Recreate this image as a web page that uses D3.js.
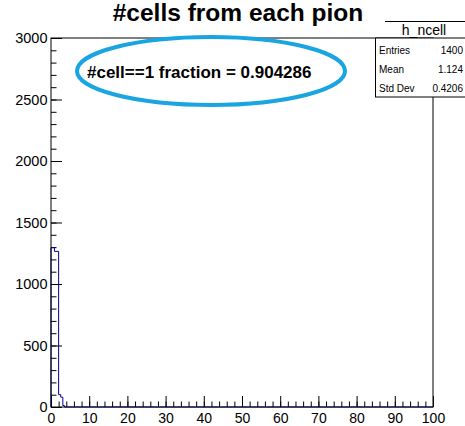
<!DOCTYPE html>
<html>
<head>
<meta charset="utf-8">
<script src="https://cdn.jsdelivr.net/npm/d3@7"></script>
<style>
  body { margin: 0; background: #fff; }
  svg { display: block; font-family: "Liberation Sans", Arial, sans-serif; }
</style>
</head>
<body>
<div id="chart"></div>
<script>
// histogram h_ncell
var binEdges = [0, 0.9, 2, 2.55, 3.1, 3.5];
var binCounts = [1295, 1265, 100, 80, 12];
var xRange = [0, 100];
var yRange = [0, 3000];
var xTicks = [0, 10, 20, 30, 40, 50, 60, 70, 80, 90, 100];
var yTicks = [0, 500, 1000, 1500, 2000, 2500, 3000];

var statsNames = ["Entries", "Mean", "Std Dev"];
var statsValues = ["1400", "1.124", "0.4206"];
var title = "#cells from each pion";
var note = "#cell==1 fraction = 0.904286";

var width = 465, height = 426;
var font = "Liberation Sans, Arial, sans-serif";
var svg = d3.select("#chart").append("svg").attr("width", width).attr("height", height);

var x = d3.scaleLinear().domain(xRange).range([51, 433]);
var y = d3.scaleLinear().domain(yRange).range([407, 38]);

// minor ticks
svg.append("g").attr("transform", "translate(0,407)")
    .call(d3.axisBottom(x).tickValues(d3.range(0, 101, 2)).tickSize(-5.5).tickFormat(""))
    .call(function(g) { g.select(".domain").remove(); });
svg.append("g").attr("transform", "translate(51,0)")
    .call(d3.axisLeft(y).tickValues(d3.range(0, 3001, 100)).tickSize(-5.5).tickFormat(""))
    .call(function(g) { g.select(".domain").remove(); });

// major ticks + labels
var xAxis = svg.append("g").attr("transform", "translate(0,407)")
    .call(d3.axisBottom(x).tickValues(xTicks).tickSize(-11).tickPadding(6).tickFormat(d3.format("d")));
xAxis.select(".domain").remove();
xAxis.attr("font-family", font);
xAxis.selectAll("text").attr("font-size", 14).attr("fill", "#000");

var yAxis = svg.append("g").attr("transform", "translate(51,0)")
    .call(d3.axisLeft(y).tickValues(yTicks).tickSize(-11).tickPadding(3.5).tickFormat(d3.format("d")));
yAxis.select(".domain").remove();
yAxis.attr("font-family", font);
yAxis.selectAll("text").attr("font-size", 14.5).attr("fill", "#000");

// histogram outline
var pts = [[x(0), y(0)]];
binCounts.forEach(function(c, i) {
    pts.push([x(binEdges[i]), y(c)]);
    pts.push([x(binEdges[i + 1]), y(c)]);
});
pts.push([x(binEdges[binEdges.length - 1]), y(0)]);
pts.push([x(100), y(0)]);
svg.append("path")
    .attr("d", d3.line()(pts))
    .attr("fill", "none")
    .attr("stroke", "#000099")
    .attr("stroke-width", 1);

// frame
svg.append("rect")
    .attr("x", x(0)).attr("y", y(3000))
    .attr("width", x(100) - x(0)).attr("height", y(0) - y(3000))
    .attr("fill", "none").attr("stroke", "#000").attr("stroke-width", 1);

// title
svg.append("text")
    .attr("x", 238).attr("y", 21)
    .attr("text-anchor", "middle")
    .attr("font-size", 24.5).attr("font-weight", "bold")
    .text(title);

// stats box
svg.append("rect")
    .attr("x", 375.5).attr("y", 38).attr("width", 100).attr("height", 59)
    .attr("fill", "#fff").attr("stroke", "#000").attr("stroke-width", 1);
svg.append("line")
    .attr("x1", 385).attr("x2", 465).attr("y1", 21.5).attr("y2", 21.5)
    .attr("stroke", "#000").attr("stroke-width", 1);
svg.append("text")
    .attr("x", 424).attr("y", 35)
    .attr("text-anchor", "middle").attr("font-size", 14)
    .text("h_ncell");
var rows = svg.append("g").selectAll("g").data(statsNames).join("g")
    .attr("transform", function(d, i) { return "translate(0," + (54 + i * 19) + ")"; });
rows.append("text").attr("x", 379).attr("font-size", 10).text(function(d) { return d; });
rows.append("text").attr("x", 463).attr("text-anchor", "end").attr("font-size", 10)
    .text(function(d, i) { return statsValues[i]; });

// annotation
svg.append("ellipse")
    .attr("cx", 211).attr("cy", 71).attr("rx", 134).attr("ry", 34)
    .attr("fill", "none").attr("stroke", "#19a5e1").attr("stroke-width", 4);
svg.append("text")
    .attr("x", 87).attr("y", 78)
    .attr("font-size", 17).attr("font-weight", "bold")
    .text(note);
</script>
</body>
</html>
